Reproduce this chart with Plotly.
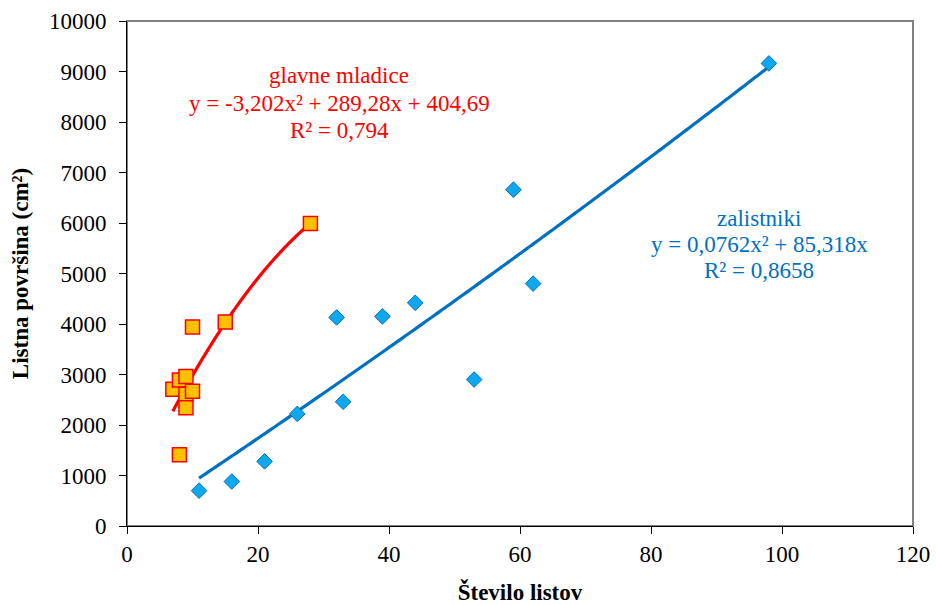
import numpy as np
import plotly.graph_objects as go

# glavne mladice (main shoots)
gm_x = [7, 8, 9, 9, 9, 10, 8, 10, 15, 28]
gm_y = [2710, 2890, 2960, 2610, 2340, 2670, 1410, 3940, 4040, 5990]
gm_coef = [-3.202, 289.28, 404.69]  # a, b, c

# zalistniki (lateral shoots)
za_x = [11, 16, 21, 26, 32, 33, 39, 44, 53, 59, 62, 98]
za_y = [700, 880, 1280, 2220, 4130, 2460, 4150, 4420, 2900, 6660, 4800, 9160]
za_coef = [0.0762, 85.318, 0.0]

gm_label = ["glavne mladice", "y = -3,202x² + 289,28x + 404,69", "R² = 0,794"]
za_label = ["zalistniki", "y = 0,0762x² + 85,318x", "R² = 0,8658"]

x_ticks = [0, 20, 40, 60, 80, 100, 120]
y_ticks = [0, 1000, 2000, 3000, 4000, 5000, 6000, 7000, 8000, 9000, 10000]

RED = "#FF0000"
BLUE = "#0070C0"
FONT = "Liberation Serif, Times New Roman, serif"


def trend(coef, xs):
    xx = np.linspace(min(xs), max(xs), 200)
    return xx, coef[0] * xx ** 2 + coef[1] * xx + coef[2]


fig = go.Figure()

tx, ty = trend(za_coef, za_x)
fig.add_trace(go.Scatter(x=tx, y=ty, mode="lines", line=dict(color=BLUE, width=3.2, simplify=False),
                         showlegend=False, hoverinfo="skip"))
tx, ty = trend(gm_coef, gm_x)
fig.add_trace(go.Scatter(x=tx, y=ty, mode="lines", line=dict(color=RED, width=3.2, simplify=False),
                         showlegend=False, hoverinfo="skip"))

fig.add_trace(go.Scatter(x=za_x, y=za_y, mode="markers", name="zalistniki",
                         marker=dict(symbol="diamond", size=12, color="#0FA8EC",
                                     line=dict(color="#0070C0", width=1)),
                         showlegend=False))
fig.add_trace(go.Scatter(x=gm_x, y=gm_y, mode="markers", name="glavne mladice",
                         marker=dict(symbol="square", size=14, color="#FFC000",
                                     line=dict(color=RED, width=1.5)),
                         showlegend=False))

# annotations (one per line)
gm_ys = [8930, 8376, 7822]
za_ys = [6099, 5584, 5069]
for txt, yy in zip(gm_label, gm_ys):
    fig.add_annotation(x=32.4, y=yy, text=txt, showarrow=False, xanchor="center", yanchor="middle",
                       font=dict(family=FONT, size=23, color=RED))
for txt, yy in zip(za_label, za_ys):
    fig.add_annotation(x=96.5, y=yy, text=txt, showarrow=False, xanchor="center", yanchor="middle",
                       font=dict(family=FONT, size=23, color=BLUE))

# gray plot-area frame
fig.add_shape(type="rect", xref="paper", yref="paper", x0=0, y0=0, x1=1, y1=1,
              line=dict(color="#808080", width=2), layer="below")

fig.update_layout(
    width=936, height=605,
    margin=dict(l=127, r=23, t=21, b=79, autoexpand=False),
    paper_bgcolor="white", plot_bgcolor="white",
    font=dict(family=FONT, size=23, color="black"),
    xaxis=dict(range=[0, 120], tickvals=x_ticks, ticktext=[str(v) for v in x_ticks],
               showgrid=False, zeroline=False, showline=True, linecolor="black", linewidth=1,
               ticks="outside", ticklen=7, tickcolor="black", tickwidth=1,
               ticklabelstandoff=0, automargin=False,
               tickfont=dict(family=FONT, size=23),
               title=dict(text="<b>Število listov</b>", font=dict(family=FONT, size=23), standoff=28)),
    yaxis=dict(range=[0, 10000], tickvals=y_ticks, ticktext=[str(v) for v in y_ticks],
               showgrid=False, zeroline=False, showline=True, linecolor="black", linewidth=1,
               ticks="outside", ticklen=7, tickcolor="black", tickwidth=1,
               ticklabelstandoff=8, automargin=False,
               tickfont=dict(family=FONT, size=23),
               title=dict(text="<b>Listna površina (cm²)</b>", font=dict(family=FONT, size=23),
                          standoff=13)),
)

fig.write_html("out.html")
